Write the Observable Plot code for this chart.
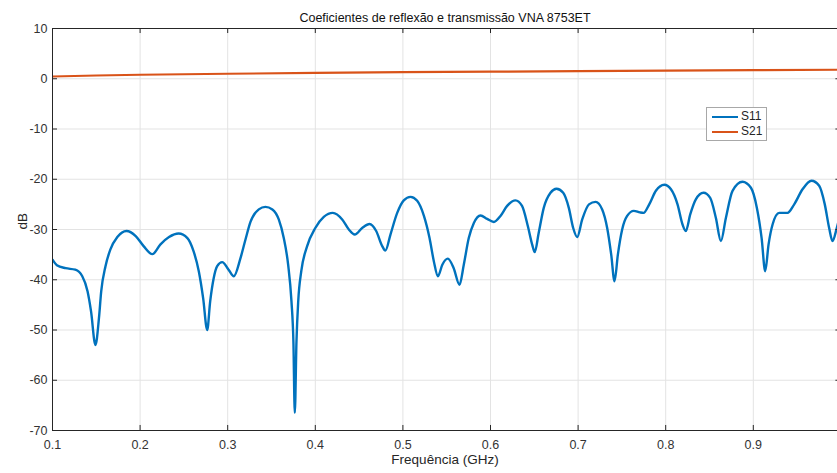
<!DOCTYPE html>
<html>
<head>
<meta charset="utf-8">
<script src="https://cdn.jsdelivr.net/npm/d3@7"></script>
<script src="https://cdn.jsdelivr.net/npm/@observablehq/plot@0.6"></script>
<style>
  html, body { margin: 0; padding: 0; background: #fff; overflow: hidden; }
  #wrap { position: relative; width: 837px; height: 473px; overflow: hidden; }
  #legend { position: absolute; left: 706px; top: 107px; width: 59px; height: 32px;
    border: 1px solid #a8a8a8; background: #fff; font: 12px "Liberation Sans", Arial, sans-serif; color: #262626; }
  #legend .row { position: absolute; left: 0; height: 14px; }
  #legend .sw { position: absolute; left: 5px; width: 26px; height: 2px; }
  #legend .lb { position: absolute; left: 34px; top: -7px; line-height: 14px; }
</style>
</head>
<body>
<div id="wrap">
  <div id="chart"></div>
  <div id="legend"></div>
</div>
<script>
const title = "Coeficientes de reflexão e transmissão VNA 8753ET";
const xLabel = "Frequência (GHz)";
const yLabel = "dB";
const seriesNames = ["S11", "S21"];
const seriesColors = ["#0072BD", "#D95319"];
const xTicks = [0.1, 0.2, 0.3, 0.4, 0.5, 0.6, 0.7, 0.8, 0.9];
const yTicks = [10, 0, -10, -20, -30, -40, -50, -60, -70];

// S11 (frequency GHz, dB)
const s11Freq = [0.100,0.105,0.115,0.126,0.134,0.140,0.144,0.149,0.153,0.1556,0.1605,0.166,0.174,0.1845,0.195,0.204,0.214,0.223,0.233,0.244,0.254,0.261,0.267,0.272,0.2766,0.280,0.284,0.288,0.2937,0.301,0.307,0.3146,0.3203,0.326,
  0.3355,0.343,0.351,0.3583,0.364,0.369,0.3728,0.375,0.3766,0.3785,0.3805,0.384,0.3907,0.400,0.4097,0.420,0.4307,0.4383,0.445,0.4535,0.462,0.4695,0.4764,0.480,0.4858,0.4935,0.501,0.5087,0.5163,0.524,0.5304,0.5353,0.540,0.545,
  0.5513,0.558,0.5646,0.5695,0.5752,0.581,0.5886,0.5962,0.6038,0.6114,0.619,0.6285,0.636,0.6426,0.6476,0.6505,0.655,0.6608,0.6685,0.6753,0.683,0.6894,0.6944,0.699,0.7047,0.7124,0.720,0.7275,0.7332,0.7378,0.7416,0.7454,0.7503,0.756,0.7636,0.7705,
  0.7747,0.7812,0.7888,0.7984,0.806,0.8135,0.8192,0.823,0.828,0.8344,0.8432,0.8508,0.8573,0.863,0.8687,0.8763,0.8877,0.8973,0.9041,0.9095,0.9136,0.9174,0.922,0.9296,0.939,0.9467,0.9562,0.9664,0.9752,0.9816,0.9866,0.9904,0.9953,1.0];
const s11dB = [-36.0,-37.1,-37.7,-38.0,-39.3,-42.3,-46.3,-53.0,-47.7,-42.3,-37.3,-34.0,-31.5,-30.3,-31.3,-33.3,-34.9,-33.0,-31.5,-30.8,-31.7,-34.3,-38.3,-43.7,-50.0,-44.3,-39.7,-37.3,-36.5,-38.0,-39.3,-35.7,-32.0,-28.5,
  -26.0,-25.5,-26.0,-28.0,-31.7,-37.0,-44.3,-52.3,-66.5,-52.3,-44.3,-38.3,-33.3,-29.7,-27.5,-26.7,-28.0,-30.0,-31.0,-29.7,-28.9,-30.3,-33.3,-34.2,-31.0,-26.7,-24.2,-23.5,-24.3,-27.3,-31.7,-36.3,-39.3,-37.0,
  -35.8,-37.7,-41.0,-37.0,-31.7,-28.7,-27.2,-27.9,-28.5,-27.3,-25.3,-24.2,-25.3,-29.3,-33.0,-34.5,-30.7,-25.7,-22.7,-21.9,-22.7,-25.7,-29.7,-31.5,-28.0,-25.0,-24.5,-26.0,-29.7,-35.0,-40.3,-35.0,-30.0,-27.3,-26.3,-26.6,
  -26.7,-25.0,-22.3,-21.1,-22.0,-25.0,-29.0,-30.3,-27.0,-24.0,-22.7,-23.7,-27.7,-32.3,-27.7,-22.3,-20.5,-21.7,-25.7,-31.7,-38.3,-33.0,-29.0,-26.7,-26.7,-25.0,-22.0,-20.3,-21.3,-25.0,-29.7,-32.3,-29.7,-26.5];

// S21 (frequency GHz, dB)
const s21Freq = [0.1, 0.15, 0.2, 0.3, 0.4, 0.5, 0.6, 0.7, 0.8, 0.9, 1.0];
const s21dB = [0.45, 0.65, 0.8, 1.0, 1.15, 1.3, 1.4, 1.5, 1.6, 1.7, 1.8];

const s11 = s11Freq.map((f, i) => ({f, db: s11dB[i]}));
const s21 = s21Freq.map((f, i) => ({f, db: s21dB[i]}));

const font = '"Liberation Sans", Arial, sans-serif';
const xMax = 0.1 + 785 / 876;
const dx = 5 * 0.9 / 788; // ~5px in x units
const dy = 1;             // 5px in y units

const inX = xTicks.filter(d => d > 0.1);
const inY = yTicks.filter(d => d > -70 && d < 10);

const chart = Plot.plot({
  width: 837,
  height: 473,
  marginTop: 28,
  marginBottom: 43,
  marginLeft: 52,
  marginRight: 0,
  style: {fontFamily: font, fontSize: "12px", color: "#262626", background: "#fff"},
  x: {domain: [0.1, xMax], label: null},
  y: {domain: [-70, 10], label: null},
  marks: [
    Plot.gridX(inX, {stroke: "#e3e3e3", strokeOpacity: 1}),
    Plot.gridY(inY, {stroke: "#e3e3e3", strokeOpacity: 1}),
    Plot.line(s21, {x: "f", y: "db", stroke: seriesColors[1], strokeWidth: 2.2, clip: true}),
    Plot.line(s11, {x: "f", y: "db", stroke: seriesColors[0], strokeWidth: 2.4, curve: "monotone-x", clip: true}),
    Plot.ruleY([10, -70], {stroke: "#262626", strokeWidth: 1}),
    Plot.ruleX([0.1], {stroke: "#262626", strokeWidth: 1}),
    Plot.ruleX(inX, {x: d => d, y1: -70, y2: -70 + dy, stroke: "#262626"}),
    Plot.ruleX(inX, {x: d => d, y1: 10, y2: 10 - dy, stroke: "#262626"}),
    Plot.ruleY(inY, {y: d => d, x1: 0.1, x2: 0.1 + dx, stroke: "#262626"}),
    Plot.ruleY(inY, {y: d => d, x1: 1.0 - dx, x2: 1.0, stroke: "#262626", clip: true}),
    Plot.axisX(xTicks, {tickSize: 0, tickPadding: 10, fontSize: 12.5, fill: "#333", tickFormat: d => String(d)}),
    Plot.axisY(yTicks, {tickSize: 0, tickPadding: 5, fontSize: 12.5, fill: "#333", tickFormat: d => String(d)}),
    Plot.text([xLabel], {frameAnchor: "bottom", dy: 33, text: d => d, fontSize: 13.5, fill: "#262626"}),
    Plot.text([yLabel], {frameAnchor: "left", dx: -30, rotate: -90, text: d => d, fontSize: 13.5, fill: "#262626"}),
    Plot.text([title], {frameAnchor: "top", dy: -15, text: d => d, fontSize: 12.5, fill: "#111"})
  ]
});
document.getElementById("chart").appendChild(chart);

const leg = document.getElementById("legend");
seriesNames.forEach((name, i) => {
  const row = document.createElement("div");
  row.className = "row";
  row.style.top = (8 + i * 15) + "px";
  row.style.width = "59px";
  row.innerHTML = `<div class="sw" style="background:${seriesColors[i]}"></div><div class="lb">${name}</div>`;
  leg.appendChild(row);
});
</script>
</body>
</html>
